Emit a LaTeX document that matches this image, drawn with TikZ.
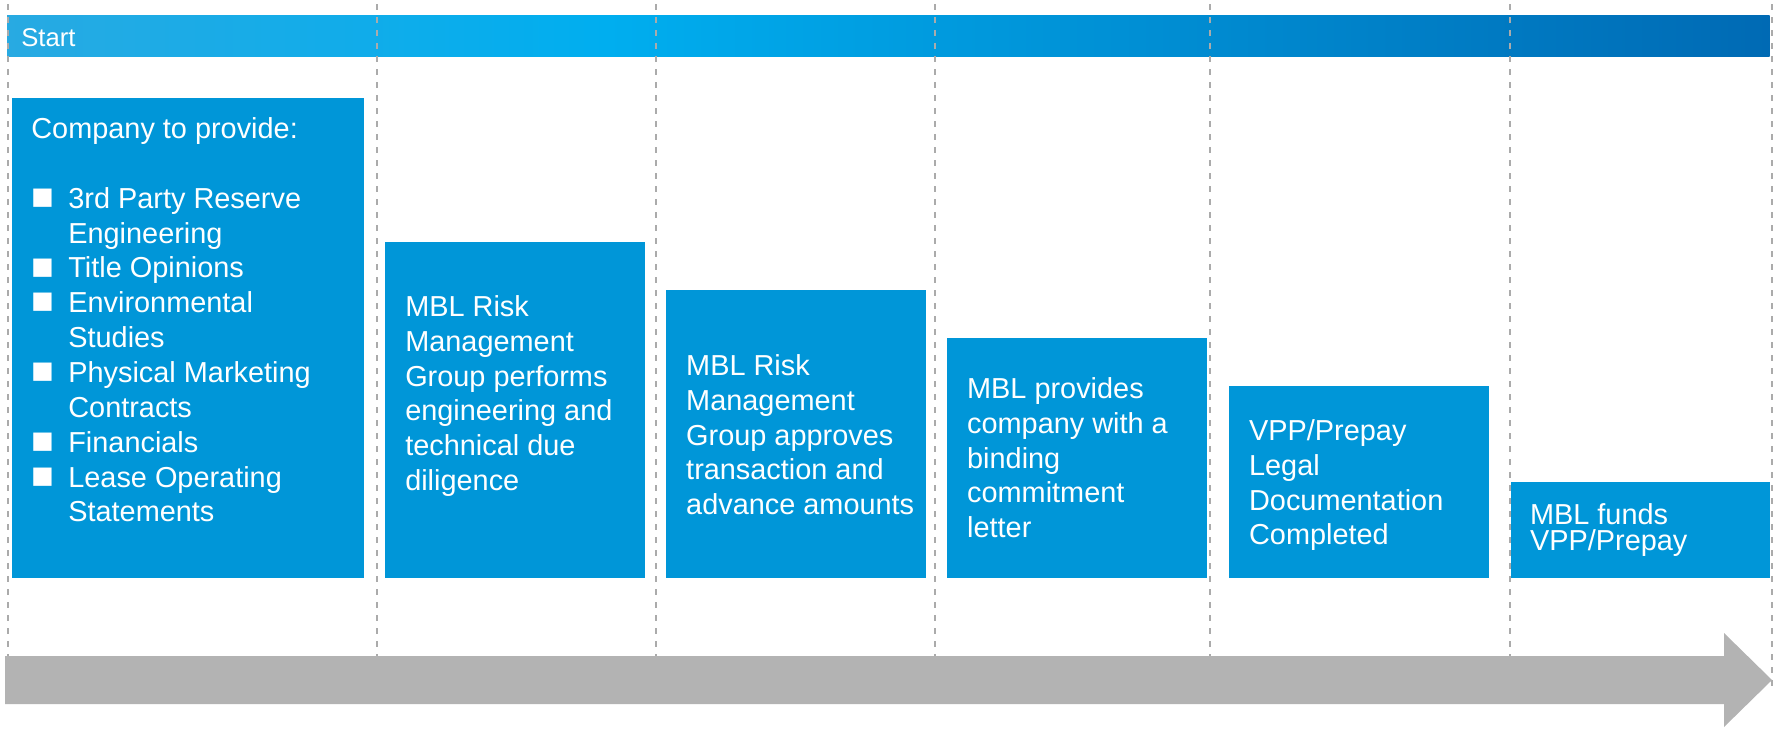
\documentclass[tikz,border=0pt]{standalone}
\usepackage{fontspec}
\setmainfont{Liberation Sans}
\usepackage{xcolor}
\usepackage{tikz}
\usetikzlibrary{shapes,arrows,positioning}

\definecolor{boxblue}{RGB}{0,150,216}
\definecolor{barleft}{RGB}{40,170,226}
\definecolor{barmid}{RGB}{0,174,239}
\definecolor{barright}{RGB}{0,106,180}
\definecolor{guidegray}{RGB}{171,171,171}
\definecolor{arrowgray}{RGB}{179,179,179}

\pgfdeclarehorizontalshading{startbar}{100bp}{color(0bp)=(barleft); color(25bp)=(barleft); color(42bp)=(barmid); color(75bp)=(barright); color(100bp)=(barright)}

% square bullet with hanging indent
\newcommand{\sqitem}{\makebox[0.74cm][l]{\raisebox{-0.6pt}{\smash{\fontsize{21.5}{20}\selectfont ■}}}}
\newcommand{\hang}{\hspace*{0.74cm}}

\begin{document}
\begin{tikzpicture}[
    x=0.02cm, y=-0.02cm,
    bar/.style={rectangle, shade, shading=startbar, inner sep=0, outer sep=0, minimum width=35.26cm, minimum height=0.84cm, anchor=north west},
    stepbox/.style={rectangle, fill=boxblue, inner sep=0, outer sep=0, minimum width=5.2cm, anchor=south west},
    steptext/.style={inner sep=0, align=left, text=white, font=\fontsize{16.44}{19.84}\selectfont},
    guide/.style={draw=guidegray, line width=1.1pt, dash pattern=on 3.4pt off 4pt}
]
    \useasboundingbox (0,0) rectangle (1781,728);

    % Header bar
    \node[bar] (bar) at (7,15) {};
    \node[steptext, font=\fontsize{14.6}{17}\selectfont, right=0.28cm of bar.west, yshift=-0.03cm] (start) {Start};

    % Steps, bottoms aligned
    \node[stepbox, minimum width=7.04cm, minimum height=9.6cm] (s1) at (12,578) {};
    \node[stepbox, minimum height=6.72cm, right=0.42cm of s1.south east, anchor=south west] (s2) {};
    \node[stepbox, minimum height=5.76cm, right=0.42cm of s2.south east, anchor=south west] (s3) {};
    \node[stepbox, minimum height=4.8cm, right=0.42cm of s3.south east, anchor=south west] (s4) {};
    \node[stepbox, minimum height=3.84cm, right=0.44cm of s4.south east, anchor=south west] (s5) {};
    \node[stepbox, minimum width=5.18cm, minimum height=1.92cm, right=0.44cm of s5.south east, anchor=south west] (s6) {};

    % Step texts
    \node[steptext, below right=0.38cm and 0.38cm of s1.north west] (t1) {Company to provide:\\[0.7cm]
        \sqitem 3rd Party Reserve\\
        \hang Engineering\\
        \sqitem Title Opinions\\
        \sqitem Environmental\\
        \hang Studies\\
        \sqitem Physical Marketing\\
        \hang Contracts\\
        \sqitem Financials\\
        \sqitem Lease Operating\\
        \hang Statements};
    \node[steptext, below right=1.06cm and 0.4cm of s2.north west] (t2) {MBL Risk\\Management\\Group performs\\engineering and\\technical due\\diligence};
    \node[steptext, below right=1.28cm and 0.4cm of s3.north west] (t3) {MBL Risk\\Management\\Group approves\\transaction and\\advance amounts};
    \node[steptext, below right=0.78cm and 0.4cm of s4.north west] (t4) {MBL provides\\company with a\\binding\\commitment\\letter};
    \node[steptext, below right=0.66cm and 0.4cm of s5.north west] (t5) {VPP/Prepay\\Legal\\Documentation\\Completed};
    \node[steptext, font=\fontsize{16.44}{14.74}\selectfont, below right=0.42cm and 0.38cm of s6.north west] (t6) {MBL funds\\VPP/Prepay};

    % Phase dividers
    \foreach \x in {8,377,656,935,1210,1510,1772}
        \draw[guide] (\x,4) -- (\x,690);

    % Timeline arrow
    \fill[arrowgray] (5,656) -- (1724,656) -- (1724,633) -- (1772,680) -- (1724,727) -- (1724,704) -- (5,704) -- cycle;
\end{tikzpicture}
\end{document}
